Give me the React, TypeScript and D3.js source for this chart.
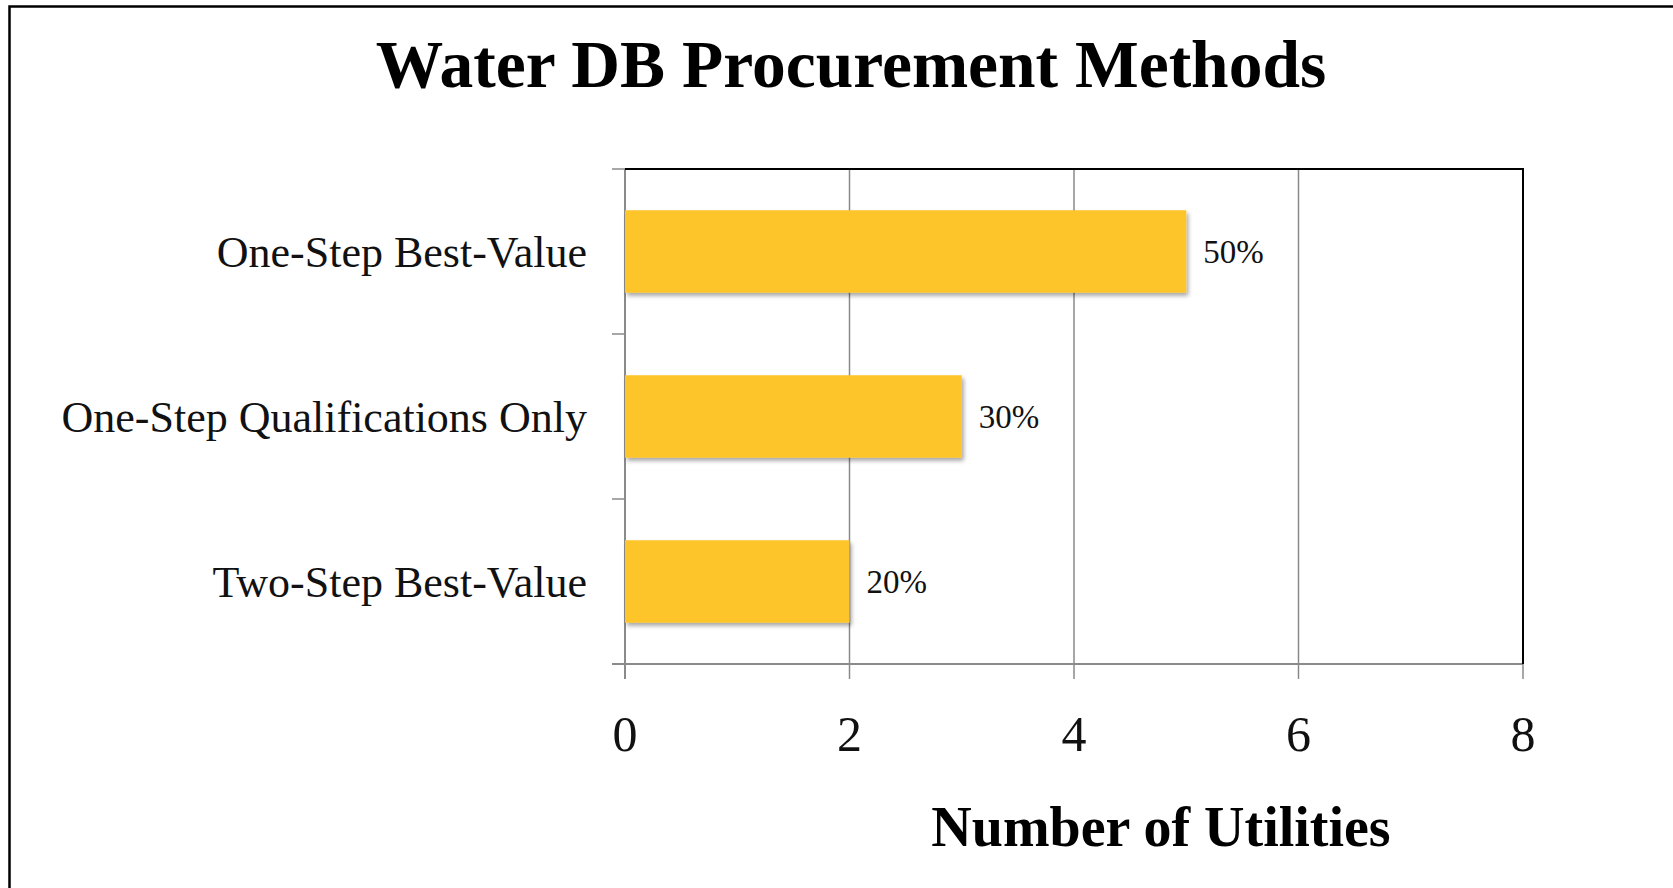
import * as d3 from 'd3';

const categories = ['One-Step Best-Value', 'One-Step Qualifications Only', 'Two-Step Best-Value'];
const utilities = [5, 3, 2];
const shares = ['50%', '30%', '20%'];
const xTicks = [0, 2, 4, 6, 8];

const W = 1673;
const H = 888;
const LEFT = 625;
const RIGHT = 1523;
const TOP = 169;
const BOTTOM = 664;
const SERIF = '"Liberation Serif", "Times New Roman", serif';

export default function App() {
  const x = d3.scaleLinear().domain([0, 8]).range([LEFT, RIGHT]);
  const y = d3.scaleBand().domain(categories).range([TOP, BOTTOM]).paddingInner(0.5).paddingOuter(0.25);
  const band = d3.scaleBand().domain(categories).range([TOP, BOTTOM]);

  return (
    <div style={{ position: 'absolute', left: 0, top: 0 }}>
      <svg width={W} height={H} style={{ display: 'block', background: '#fff' }}>
        <defs>
          <filter id="shadow" x="-5%" y="-20%" width="115%" height="150%">
            <feDropShadow dx="2" dy="3" stdDeviation="2" floodColor="#000" floodOpacity="0.35" />
          </filter>
        </defs>

        {/* outer frame */}
        <rect x={9.5} y={6.5} width={W + 20} height={H + 20} fill="none" stroke="#000" strokeWidth={2.5} />

        <text x={851} y={87} textAnchor="middle" fontFamily={SERIF} fontWeight="bold" fontSize={67.5}>
          Water DB Procurement Methods
        </text>

        {/* vertical grid */}
        {xTicks.map((t) => (
          <line key={t} x1={x(t)} x2={x(t)} y1={TOP} y2={BOTTOM + 15} stroke="#8a8a8a" strokeWidth={1.5} />
        ))}

        {/* category ticks */}
        {[...categories.map((c) => band(c)!), BOTTOM].map((v, i) => (
          <line key={i} x1={LEFT - 13} x2={LEFT} y1={v} y2={v} stroke="#8a8a8a" strokeWidth={1.5} />
        ))}

        <line x1={LEFT} x2={LEFT} y1={TOP} y2={BOTTOM + 15} stroke="#8a8a8a" strokeWidth={2} />
        <line x1={LEFT - 13} x2={RIGHT} y1={BOTTOM} y2={BOTTOM} stroke="#8a8a8a" strokeWidth={2} />
        <line x1={LEFT} x2={RIGHT + 1} y1={TOP} y2={TOP} stroke="#000" strokeWidth={2} />
        <line x1={RIGHT} x2={RIGHT} y1={TOP} y2={BOTTOM} stroke="#000" strokeWidth={2} />

        {categories.map((c, i) => (
          <g key={c}>
            <rect
              x={x(0)}
              y={y(c)}
              width={x(utilities[i]) - x(0)}
              height={y.bandwidth()}
              fill="#FDC52A"
              filter="url(#shadow)"
            />
            <text
              x={x(utilities[i]) + 17}
              y={y(c)! + y.bandwidth() / 2 + 11}
              fontFamily={SERIF}
              fontSize={33}
              fill="#111"
            >
              {shares[i]}
            </text>
            <text
              x={587}
              y={y(c)! + y.bandwidth() / 2 + 15}
              textAnchor="end"
              fontFamily={SERIF}
              fontSize={44}
              fill="#111"
            >
              {c}
            </text>
          </g>
        ))}

        {xTicks.map((t) => (
          <text key={t} x={x(t)} y={751} textAnchor="middle" fontFamily={SERIF} fontSize={50} fill="#111">
            {t}
          </text>
        ))}

        <text x={1161} y={846} textAnchor="middle" fontFamily={SERIF} fontWeight="bold" fontSize={56}>
          Number of Utilities
        </text>
      </svg>
    </div>
  );
}
